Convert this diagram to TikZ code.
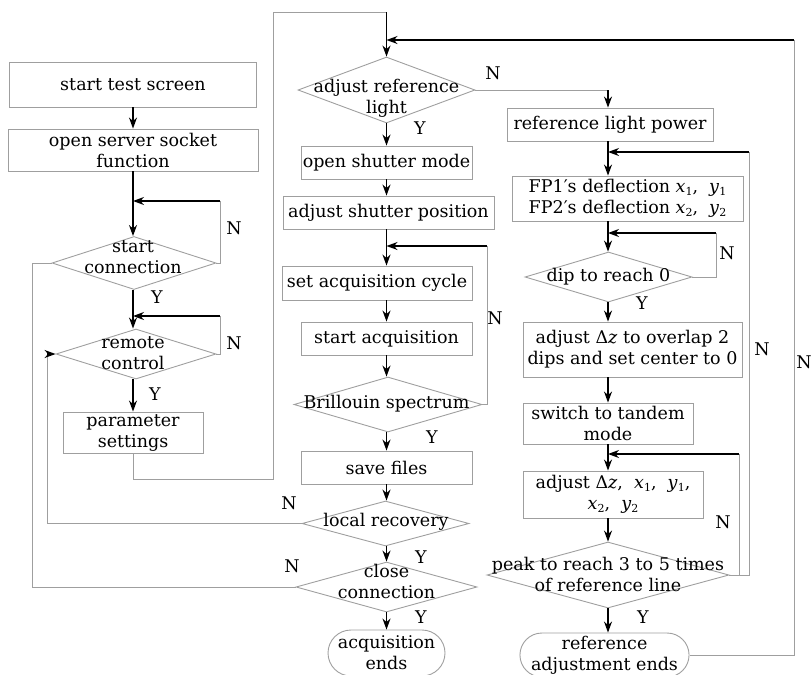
\documentclass[tikz,border=0pt]{standalone}
\usepackage{fontspec}
\setmainfont{DejaVu Serif}
\usetikzlibrary{arrows.meta,shapes.geometric,shapes.misc}
\newcommand\myfs{\fontsize{17.5}{21}\selectfont}
\newcommand\mv[2]{\textit{#1}\raisebox{-0.35ex}{\fontsize{11}{11}\selectfont #2}}
\tikzset{
  box/.style={draw=gray!75, line width=0.9pt, inner sep=0pt, align=center, font=\myfs},
  dia/.style={draw=gray!75, line width=0.9pt, shape=diamond, inner sep=0pt},
  term/.style={draw=gray!75, line width=0.9pt, rounded rectangle, inner sep=0pt, align=center, font=\myfs},
  lab/.style={inner sep=0pt, align=center, font=\myfs},
  arr/.style={-{Stealth[length=11pt,width=8pt,inset=3.5pt]}, line width=1.2pt, black},
  gl/.style={draw=gray!75, line width=0.9pt},
}
\begin{document}
\begin{tikzpicture}[x=1pt,y=-1pt]
\useasboundingbox (0,0) rectangle (812,675);
\coordinate (L) at (133,0);
\coordinate (M) at (386.5,0);
\coordinate (R) at (608,0);
% left column
\node[box, minimum width=247, minimum height=45] (st) at (133,84.5) {start test screen};
\node[box, minimum width=250, minimum height=42] (os) at (133,150) {open server socket\\function};
\node[dia, minimum width=164, minimum height=53] (sc) at (134,263) {};
\node[lab] at (133,257) {start\\connection};
\node[dia, minimum width=160, minimum height=50] (rc) at (136,354) {};
\node[lab] at (133,353) {remote\\control};
\node[box, minimum width=140, minimum height=41] (ps) at (133,432.5) {parameter\\settings};
% middle column
\node[dia, minimum width=177, minimum height=66] (arl) at (386.5,90) {};
\node[lab] at (386.5,98) {adjust reference\\light};
\node[box, minimum width=171, minimum height=33] (osm) at (386.5,162.5) {open shutter mode};
\node[box, minimum width=211, minimum height=33] (asp) at (388.5,212.5) {adjust shutter position};
\node[box, minimum width=190, minimum height=34] (sac) at (377,283) {set acquisition cycle};
\node[box, minimum width=171, minimum height=33] (sa) at (386.5,338.5) {start acquisition};
\node[dia, minimum width=188, minimum height=55] (bs) at (388,404.5) {};
\node[lab] at (386.5,404) {Brillouin spectrum};
\node[box, minimum width=171, minimum height=33] (sf) at (386.5,467.5) {save files};
\node[dia, minimum width=167, minimum height=45] (lr) at (385.5,523.5) {};
\node[lab] at (386,522) {local recovery};
\node[dia, minimum width=181, minimum height=50] (cc) at (386.5,587) {};
\node[lab] at (386.5,581) {close\\connection};
\node[term, minimum width=117, minimum height=46] (ae) at (386.5,653) {acquisition\\ends};
% right column
\node[box, minimum width=206, minimum height=33] (rlp) at (610,124.5) {reference light power};
\node[box, minimum width=231, minimum height=45] (fp) at (627.5,198.5) {FP1′s deflection \mv{x}{1},\ \ \mv{y}{1}\\FP2′s deflection \mv{x}{2},\ \ \mv{y}{2}};
\node[dia, minimum width=167, minimum height=50] (dip) at (608.5,277) {};
\node[lab] at (608.5,277) {dip to reach 0};
\node[box, minimum width=219, minimum height=55] (adz) at (632.5,349.5) {adjust Δ\textit{z} to overlap 2\\dips and set center to 0};
\node[box, minimum width=170, minimum height=41] (stm) at (608,423.5) {switch to tandem\\mode};
\node[box, minimum width=180, minimum height=47] (adzb) at (613,494.5) {adjust Δ\textit{z},\ \ \mv{x}{1},\ \ \mv{y}{1},\\\mv{x}{2},\ \ \mv{y}{2}};
\node[dia, minimum width=242, minimum height=66] (pk) at (608,575) {};
\node[lab] at (608,574) {peak to reach 3 to 5 times\\of reference line};
\node[term, minimum width=167, minimum height=44] (rae) at (604.5,655) {reference\\adjustment ends};
% loop coordinates
\coordinate (j1) at (133,201);
\coordinate (j2) at (133,316);
\coordinate (j3) at (386.5,12);
\coordinate (j4) at (386.5,40);
\coordinate (j5) at (386.5,246);
\coordinate (j6) at (608,152);
\coordinate (j7) at (608,233);
\coordinate (j8) at (608,454);
% main flow left
\draw[arr] (st) -- (os);
\draw[arr] (os.south) -- (sc.north -| os.south);
\draw[arr] (sc.south -| L) -- (rc.north -| L);
\draw[arr] (rc.south -| L) -- (ps.north);
\draw[gl] (sc.east) -- (220,263) -- (220,201);
\draw[arr] (220,201) -- (j1);
\draw[gl] (rc.east) -- (220,354) -- (220,316);
\draw[arr] (220,316) -- (j2);
\draw[gl] (ps.south) -- (133,479) -- (273,479) -- (273,12) -- (j3);
\draw[arr] (j3) -- (arl.north);
% main flow middle
\draw[arr] (arl.south) -- (osm.north);
\draw[arr] (osm.south) -- (osm.south |- asp.north);
\draw[arr] (asp.south -| M) -- (sac.north -| M);
\draw[arr] (sac.south -| M) -- (sa.north);
\draw[arr] (sa.south) -- (sa.south |- bs.north);
\draw[arr] (bs.south -| M) -- (sf.north);
\draw[arr] (sf.south) -- (sf.south |- lr.north);
\draw[arr] (lr.south -| M) -- (cc.north -| M);
\draw[arr] (cc.south) -- (ae.north);
\draw[gl] (bs.east) -- (487,404.5) -- (487,246);
\draw[arr] (487,246) -- (j5);
\draw[gl] (lr.west) -- (47,523.5) -- (47,354);
\draw[arr] (47,354) -- (rc.west);
\draw[gl] (cc.west) -- (32,587) -- (32,263) -- (sc.west);
\draw[gl] (arl.east) -- (608,90);
\draw[arr] (608,90) -- (rlp.north -| R);
% right column
\draw[arr] (rlp.south -| R) -- (fp.north -| R);
\draw[arr] (fp.south -| R) -- (dip.north -| R);
\draw[arr] (dip.south -| R) -- (adz.north -| R);
\draw[arr] (adz.south -| R) -- (stm.north -| R);
\draw[arr] (stm.south -| R) -- (adzb.north -| R);
\draw[arr] (adzb.south -| R) -- (pk.north -| R);
\draw[arr] (pk.south -| R) -- (rae.north -| R);
\draw[gl] (dip.east) -- (716,277) -- (716,233);
\draw[arr] (716,233) -- (j7);
\draw[gl] (pk.east) -- (749,575) -- (749,152);
\draw[arr] (749,152) -- (j6);
\draw[gl] (739,575) -- (739,454);
\draw[arr] (739,454) -- (j8);
\draw[gl] (rae.east) -- (794,655) -- (794,40);
\draw[arr] (794,40) -- (j4);
% labels
\node[lab] at (234,228) {N};
\node[lab] at (157,297) {Y};
\node[lab] at (234,343) {N};
\node[lab] at (155,394) {Y};
\node[lab] at (493,73) {N};
\node[lab] at (420,128) {Y};
\node[lab] at (495,318) {N};
\node[lab] at (432,437) {Y};
\node[lab] at (289,503) {N};
\node[lab] at (421,557) {Y};
\node[lab] at (292,566) {N};
\node[lab] at (421,617) {Y};
\node[lab] at (727,253) {N};
\node[lab] at (642,303) {Y};
\node[lab] at (762,349) {N};
\node[lab] at (723,522) {N};
\node[lab] at (643,617) {Y};
\node[lab] at (804,362) {N};
\end{tikzpicture}
\end{document}
